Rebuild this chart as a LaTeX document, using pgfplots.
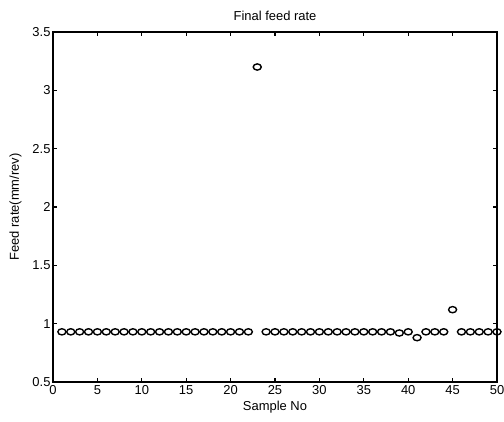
\documentclass[border=0pt]{standalone}
\usepackage{fontspec}
\setmainfont{Liberation Sans}
\usepackage{pgfplots}
\pgfplotsset{compat=1.18}
\begin{document}
\fontsize{13}{15}\selectfont
\begin{tikzpicture}[x=1bp,y=1bp]
\useasboundingbox (-53bp,-40bp) rectangle (451bp,382bp);
\begin{axis}[
  at={(0,0)}, anchor=south west,
  scale only axis,
  width=444bp, height=350bp,
  xmin=0, xmax=50, ymin=0.5, ymax=3.5,
  xtick={0,5,...,50},
  ytick={0.5,1,1.5,2,2.5,3,3.5},
  tick align=inside,
  major tick length=4bp,
  axis line style={line width=1.6bp},
  every tick/.style={black, line width=1.2bp},
  tick label style={font=\fontsize{13}{15}\selectfont},
  xticklabel style={yshift=1bp},
  yticklabel style={xshift=2bp},
  label style={font=\fontsize{13}{15}\selectfont},
  title style={font=\fontsize{13}{15}\selectfont, yshift=1bp},
  /pgf/number format/assume math mode=true,
  title={Final feed rate},
  xlabel={Sample No},
  ylabel={Feed rate(mm/rev)},
  xlabel style={yshift=2bp},
  ylabel style={yshift=2bp},
  clip=false,
]
\addplot[only marks, mark=o, mark size=3.1bp, mark options={xscale=1.3, line width=1.4bp, black}] coordinates {
(1,0.93)(2,0.93)(3,0.93)(4,0.93)(5,0.93)(6,0.93)(7,0.93)(8,0.93)(9,0.93)(10,0.93)
(11,0.93)(12,0.93)(13,0.93)(14,0.93)(15,0.93)(16,0.93)(17,0.93)(18,0.93)(19,0.93)(20,0.93)
(21,0.93)(22,0.93)(23,3.2)(24,0.93)(25,0.93)(26,0.93)(27,0.93)(28,0.93)(29,0.93)(30,0.93)
(31,0.93)(32,0.93)(33,0.93)(34,0.93)(35,0.93)(36,0.93)(37,0.93)(38,0.93)(39,0.92)(40,0.93)
(41,0.88)(42,0.93)(43,0.93)(44,0.93)(45,1.12)(46,0.93)(47,0.93)(48,0.93)(49,0.93)(50,0.93)
};
\end{axis}
\end{tikzpicture}
\end{document}
